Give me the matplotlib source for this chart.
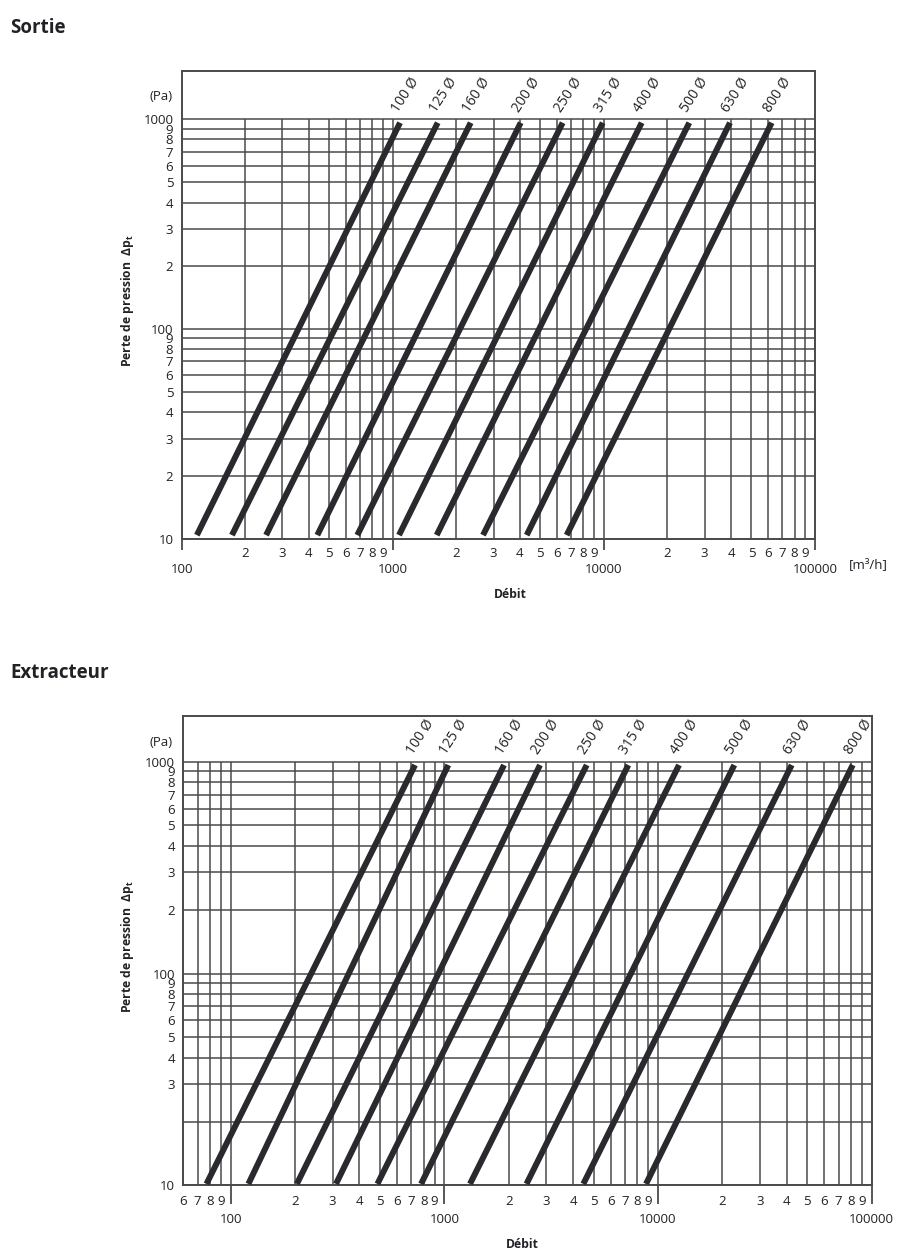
import matplotlib
matplotlib.use("Agg")
import matplotlib.pyplot as plt
from matplotlib.ticker import FixedLocator, FixedFormatter

plt.rcParams['font.family'] = ['Open Sans', 'DejaVu Sans']

# ---------------- data ----------------
diameters = ["100", "125", "160", "200", "250", "315", "400", "500", "630", "800"]

# Sortie: flow (m3/h) at the lower and upper end of each line
sortie_q_low = [118, 173, 251, 439, 679, 1070, 1614, 2675, 4309, 6663]
sortie_q_high = [1082, 1632, 2339, 4035, 6379, 9869, 15100, 25380, 39560, 62350]
sortie_p = [10.4, 960]

# Extracteur
extract_q_low = [77, 121, 204, 311, 486, 778, 1318, 2423, 4470, 8785]
extract_q_high = [729, 1043, 1902, 2803, 4637, 7258, 12540, 22750, 42230, 81500]
extract_p = [10.15, 965]

x_major = [100, 1000, 10000, 100000]
x_major_labels = ["100", "1000", "10000", "100000"]
y_grid = [10, 20, 30, 40, 50, 60, 70, 80, 90,
          100, 200, 300, 400, 500, 600, 700, 800, 900, 1000]
y_major = [10, 100, 1000]
y_major_labels = ["10", "100", "1000"]
y_minor_sortie = [20, 30, 40, 50, 60, 70, 80, 90, 200, 300, 400, 500, 600, 700, 800, 900]
y_minor_extract = [30, 40, 50, 60, 70, 80, 90, 200, 300, 400, 500, 600, 700, 800, 900]

W, H = 899, 1260
fig = plt.figure(figsize=(W / 100, H / 100), dpi=100)


def fx(px):
    return px / W


def fy(py):
    return 1 - py / H


TXT = '#222226'
GRID = '#4a4a4a'
LINE = '#2a2a2e'


def draw(rect, xlim, ylim, q_low, q_high, p_rng, y_minor, tick_len, maj_pad, min_pad):
    ax = fig.add_axes(rect)
    ax.set_xscale('log')
    ax.set_yscale('log')
    ax.set_xlim(*xlim)
    ax.set_ylim(*ylim)

    # x minor values
    x_minor = []
    for d in [10, 100, 1000, 10000]:
        for m in range(2, 10):
            v = m * d
            if xlim[0] - 1e-6 <= v <= xlim[1]:
                x_minor.append(v)
    x_grid = sorted(set(x_minor + [v for v in x_major if xlim[0] <= v <= xlim[1]]))

    ax.hlines(y_grid, xlim[0], xlim[1], color=GRID, lw=1.1, zorder=1)
    ax.vlines(x_grid, 10, 1000, color=GRID, lw=1.1, zorder=1)

    for s in ax.spines.values():
        s.set_color(GRID)
        s.set_linewidth(1.4)

    # ticks
    ax.xaxis.set_major_locator(FixedLocator(x_major))
    ax.xaxis.set_major_formatter(FixedFormatter(x_major_labels))
    ax.xaxis.set_minor_locator(FixedLocator(x_minor))
    ax.xaxis.set_minor_formatter(FixedFormatter([str(v)[0] for v in x_minor]))
    ax.yaxis.set_major_locator(FixedLocator(y_major))
    ax.yaxis.set_major_formatter(FixedFormatter(y_major_labels))
    ax.yaxis.set_minor_locator(FixedLocator(y_minor))
    ax.yaxis.set_minor_formatter(FixedFormatter([str(v)[0] for v in y_minor]))

    ax.tick_params(axis='x', which='major', length=tick_len, width=1.3, color=GRID,
                   pad=maj_pad, labelsize=9.5, labelcolor=TXT)
    ax.tick_params(axis='x', which='minor', length=0, pad=min_pad, labelsize=9.5, labelcolor=TXT)
    ax.tick_params(axis='y', which='both', length=0, pad=6, labelsize=9.5, labelcolor=TXT)

    for d, ql, qh in zip(diameters, q_low, q_high):
        ax.plot([ql, qh], p_rng, color=LINE, lw=4.3, solid_capstyle='butt', zorder=3)
        ax.annotate(f"{d} Ø", xy=(qh, p_rng[1]), xytext=(-1.5, 7.0),
                    textcoords='offset points', rotation=57, rotation_mode='anchor',
                    ha='left', va='baseline', fontsize=10, color=TXT)
    return ax


# ---------------- Sortie ----------------
draw([fx(181.7), fy(538.7), fx(815) - fx(181.7), fy(70.7) - fy(538.7)],
     (100, 100000), (10, 1699), sortie_q_low, sortie_q_high, sortie_p,
     y_minor_sortie, 8, 9.5, 6.3)

fig.text(fx(10), fy(28), "Sortie", fontsize=13.5, fontweight='bold', color=TXT,
         ha='left', va='center')
fig.text(fx(172.7), fy(96), "(Pa)", fontsize=9.5, color=TXT, ha='right', va='center')
fig.text(fx(128), fy(301), "Perte de pression  Δp$_{\\mathregular{t}}$", fontsize=8.7,
         fontweight='bold', color=TXT, rotation=90, ha='center', va='center')
fig.text(fx(510), fy(595), "Débit", fontsize=8.7, fontweight='bold', color=TXT,
         ha='center', va='center')
fig.text(fx(849), fy(565), "[m³/h]", fontsize=9.5, color=TXT, ha='left', va='center')

# ---------------- Extracteur ----------------
draw([fx(183.3), fy(1185.3), fx(871.7) - fx(183.3), fy(716) - fy(1185.3)],
     (60, 100000), (10, 1644), extract_q_low, extract_q_high, extract_p,
     y_minor_extract, 13.5, 6.5, 7.3)

fig.text(fx(10), fy(673), "Extracteur", fontsize=13.5, fontweight='bold', color=TXT,
         ha='left', va='center')
fig.text(fx(172.7), fy(742.3), "(Pa)", fontsize=9.5, color=TXT, ha='right', va='center')
fig.text(fx(128), fy(947), "Perte de pression  Δp$_{\\mathregular{t}}$", fontsize=8.7,
         fontweight='bold', color=TXT, rotation=90, ha='center', va='center')
fig.text(fx(522), fy(1244), "Débit", fontsize=8.7, fontweight='bold', color=TXT,
         ha='center', va='center')

fig.savefig("out.png", dpi=100)
